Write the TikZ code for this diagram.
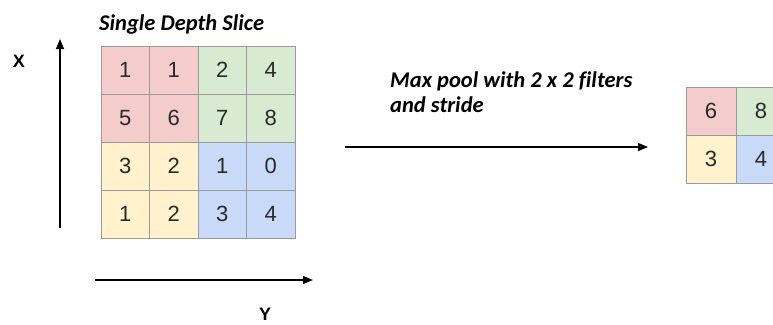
\documentclass[tikz,border=0pt]{standalone}
\usepackage{fontspec}
\setmainfont{Liberation Sans}
\newfontfamily\calib[Ligatures=NoCommon]{Carlito}
\usetikzlibrary{arrows.meta}
\definecolor{cred}{HTML}{F4CCCC}
\definecolor{cgreen}{HTML}{D9EAD3}
\definecolor{cyellow}{HTML}{FFF2CC}
\definecolor{cblue}{HTML}{C9DAF8}
\definecolor{cline}{HTML}{9A9A9A}
\definecolor{ctext}{HTML}{2A2A2A}
\tikzset{
  cell/.style={draw=cline, line width=1pt, minimum width=#1, minimum height=48pt, inner sep=0pt, outer sep=0pt, text=ctext, font=\fontsize{22}{22}\selectfont, anchor=north west},
  cell/.default=48.5pt,
  arr/.style={-{Triangle[length=10pt,width=8pt]}, line width=1.1pt, black},
  lab/.style={font=\calib\bfseries\itshape\fontsize{22.5}{25}\selectfont, anchor=base west, inner sep=0pt},
  axl/.style={font=\bfseries\fontsize{18}{18}\selectfont, inner sep=0pt}
}
\begin{document}
\begin{tikzpicture}[x=1pt,y=-1pt]
\useasboundingbox (0,0) rectangle (773,324);
\clip (0,0) rectangle (773,324);
% big grid
\foreach \r/\row in {0/{1,1,2,4},1/{5,6,7,8},2/{3,2,1,0},3/{1,2,3,4}}{
  \foreach \v [count=\c from 0] in \row {
    \pgfmathtruncatemacro{\blk}{(\r>1)*2+(\c>1)}
    \ifcase\blk \def\fc{cred}\or\def\fc{cgreen}\or\def\fc{cyellow}\or\def\fc{cblue}\fi
    \node[cell, fill=\fc] (g\r\c) at ({101+48.5*\c},{46+48*\r}) {\v};
  }
}
% small grid
\node[cell=50pt, fill=cred]    (p00) at (686,87) {6};
\node[cell=50pt, fill=cgreen]  (p01) at (736,87) {8};
\node[cell=50pt, fill=cyellow] (p10) at (686,135) {3};
\node[cell=50pt, fill=cblue]   (p11) at (736,135) {4};
% title
\node[lab] (title) at (99,30) {Single Depth Slice};
\node[lab] (mp1) at (390,87) {Max pool with 2 x 2 filters};
\node[lab] (mp2) at (390,112) {and stride};
% axes
\coordinate (xs) at (60,228);
\coordinate (xe) at (60,39);
\draw[arr] (xs) -- (xe);
\node[axl] (xl) at (19,61.5) {X};
\coordinate (ys) at (95,280);
\coordinate (ye) at (313,280);
\draw[arr] (ys) -- (ye);
\node[axl] (yl) at (265,314.5) {Y};
% middle arrow
\coordinate (ms) at (345,147);
\coordinate (me) at (648,147);
\draw[arr] (ms) -- (me);
\end{tikzpicture}
\end{document}
